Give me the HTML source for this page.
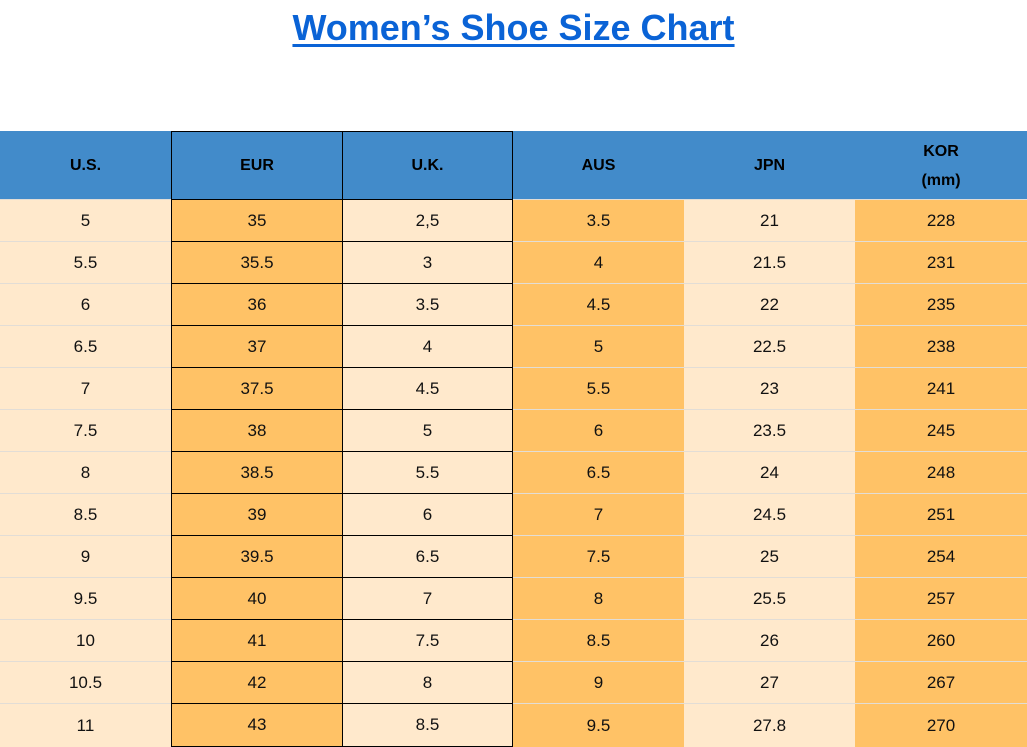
<!DOCTYPE html>
<html><head><style>
body{margin:0;width:1027px;height:747px;background:#fff;position:relative;overflow:hidden;font-family:"Liberation Sans",Arial,sans-serif}
.t{position:absolute;left:0;width:1027px;top:7px;text-align:center;font-size:36px;font-weight:bold;color:#0a63d6;text-decoration:underline;text-decoration-thickness:3px;text-underline-offset:4px}
.c{position:absolute;box-sizing:border-box;display:flex;align-items:center;justify-content:center;text-align:center;font-size:17px;color:#111}
.h{background:#428bca;font-weight:bold;font-size:16px;line-height:29px;color:#000}
.l{background:#ffe9cc}.o{background:#ffc266}
</style></head><body>
<div class="t">Women’s Shoe Size Chart</div>
<div id="g"></div>
<script>
var xs=[0,171,342,513,684,855,1027];
var hd=["U.S.","EUR","U.K.","AUS","JPN","KOR<br>(mm)"];
var d=[["5","35","2,5","3.5","21","228"],["5.5","35.5","3","4","21.5","231"],["6","36","3.5","4.5","22","235"],["6.5","37","4","5","22.5","238"],["7","37.5","4.5","5.5","23","241"],["7.5","38","5","6","23.5","245"],["8","38.5","5.5","6.5","24","248"],["8.5","39","6","7","24.5","251"],["9","39.5","6.5","7.5","25","254"],["9.5","40","7","8","25.5","257"],["10","41","7.5","8.5","26","260"],["10.5","42","8","9","27","267"],["11","43","8.5","9.5","27.8","270"]];
var cls=["l","o","l","o","l","o"];
var h="";
for(var j=0;j<6;j++){var b=(j==1||j==2)?"border:1px solid #000;":"";
h+='<div class="c h" style="left:'+xs[j]+'px;top:131px;width:'+(xs[j+1]-xs[j]+(j==1?1:0))+'px;height:69px;'+b+'">'+hd[j]+'</div>';}
for(var i=0;i<13;i++){var y=199+42*i;for(var j=0;j<6;j++){
var b=(j==1||j==2)?"border:1px solid #000;":"border-top:1px solid #e2ddd6;";
h+='<div class="c '+cls[j]+'" style="left:'+xs[j]+'px;top:'+y+'px;width:'+(xs[j+1]-xs[j]+(j==1?1:0))+'px;height:'+(i==12?44:43)+'px;'+b+'">'+d[i][j]+'</div>';}}
document.getElementById("g").innerHTML=h;
</script>
</body></html>
